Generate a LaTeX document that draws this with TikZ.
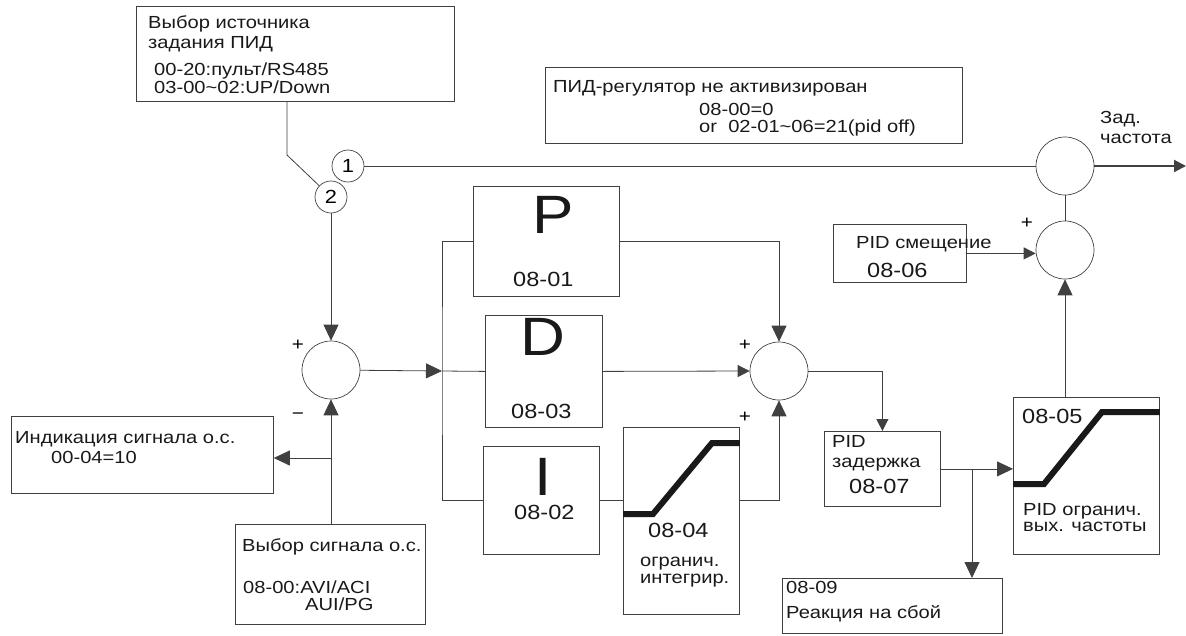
\documentclass[tikz,border=0pt]{standalone}
\usepackage{fontspec}
\setmainfont{Liberation Sans}[FakeStretch=1.15]
\usetikzlibrary{arrows.meta,positioning}

\begin{document}
\begin{tikzpicture}[
  x=1pt, y=-1pt,
  block/.style={draw=black!75, line width=0.8pt, anchor=north west, inner sep=0pt},
  sum/.style={draw=black!75, line width=0.7pt, circle, minimum size=58pt, inner sep=0pt},
  tag/.style={draw=black!75, line width=0.7pt, circle, minimum size=32pt, inner sep=0pt, font=\fontsize{19}{20}\selectfont},
  lbl/.style={anchor=base west, inner sep=0pt, text=black!90, font=\fontsize{17.5}{20}\selectfont},
  num/.style={lbl, font=\fontsize{20.5}{22}\selectfont},
  big/.style={anchor=base, inner sep=0pt, text=black!90, font=\fontsize{54}{60}\selectfont},
  sign/.style={inner sep=0pt, font=\fontsize{18}{20}\selectfont},
  wire/.style={line width=0.8pt, draw=black!75},
  arr/.style={wire, -{Triangle[length=16pt,width=15pt]}},
  sarr/.style={wire, -{Triangle[length=12pt,width=12pt]}},
  ramp/.style={line width=6pt, draw=black!90}
]
\useasboundingbox (0,0) rectangle (1186,635);

% boxes
\node[block, minimum width=318pt, minimum height=95pt] (src) at (136,6) {};
\node[block, minimum width=417pt, minimum height=76pt] (off) at (545,67) {};
\node[block, minimum width=262pt, minimum height=77pt] (fbi) at (11,416) {};
\node[block, minimum width=190pt, minimum height=100pt] (fbs) at (235,524) {};
\node[block, minimum width=146pt, minimum height=110pt] (pb) at (473,186) {};
\node[block, minimum width=117pt, minimum height=112pt] (db) at (485,315) {};
\node[block, minimum width=116pt, minimum height=108pt] (ib) at (483,446) {};
\node[block, minimum width=116pt, minimum height=187pt] (lim1) at (623,427) {};
\node[block, minimum width=133pt, minimum height=58pt] (bias) at (833,224) {};
\node[block, minimum width=116pt, minimum height=75pt] (delay) at (824,431) {};
\node[block, minimum width=146pt, minimum height=157pt] (lim2) at (1013,397) {};
\node[block, minimum width=220pt, minimum height=55pt] (fault) at (782,578) {};

% summing points and switch
\node[sum] (sum1) at (331,370) {};
\node[sum] (sum2) at (779,371) {};
\node[sum] (sum3) at (1065,250) {};
\node[sum] (outc) at (1065,166) {};
\node[tag] (c1) at (348,166) {1};
\node[tag] (c2) at (331,197) {2};

% texts
\node[lbl] (srct1) at (148,28) {Выбор источника};
\node[lbl] (srct2) at (148,48) {задания ПИД};
\node[lbl] (srct3) at (154,75) {00-20:пульт/RS485};
\node[lbl] (srct4) at (154,93) {03-00\textasciitilde02:UP/Down};
\node[lbl] (offt1) at (553,92) {ПИД-регулятор не активизирован};
\node[lbl] (offt2) at (699,115) {08-00=0};
\node[lbl] (offt3) at (699,132) {or\ \ 02-01\textasciitilde06=21(pid off)};
\node[lbl] (fbit1) at (15,443) {Индикация сигнала о.с.};
\node[lbl] (fbit2) at (51,463) {00-04=10};
\node[lbl] (fbst1) at (242,551) {Выбор сигнала о.с.};
\node[lbl] (fbst2) at (243,593) {08-00:AVI/ACI};
\node[lbl] (fbst3) at (305,610) {AUI/PG};
\node[big] (pchar) at (553,233) {P};
\node[num] (pnum) at (513,286) {08-01};
\node[big] (dchar) at (543,355) {D};
\node[num] (dnum) at (511,418) {08-03};
\node[big] (ichar) at (543,495) {I};
\node[num] (inum) at (514,519) {08-02};
\node[num] (lim1n) at (648,537) {08-04};
\node[lbl] (lim1t1) at (640,566) {огранич.};
\node[lbl] (lim1t2) at (640,583) {интегрир.};
\node[lbl] (biast) at (856,248) {PID смещение};
\node[num] (biasn) at (867,277) {08-06};
\node[lbl] (delayt1) at (832,447) {PID};
\node[lbl] (delayt2) at (832,467) {задержка};
\node[num] (delayn) at (849,493) {08-07};
\node[num] (lim2n) at (1022,423) {08-05};
\node[lbl] (lim2t1) at (1023,515) {PID огранич.};
\node[lbl] (lim2t2) at (1023,531) {вых. частоты};
\node[lbl] (faultt1) at (786,593) {08-09};
\node[lbl] (faultt2) at (786,618) {Реакция на сбой};
\node[lbl] (freqt1) at (1100,123) {Зад.};
\node[lbl] (freqt2) at (1100,143) {частота};
\node[sign] (s1p) at (298,345) {+};
\node[sign] (s1m) at (298,416) {−};
\node[sign] (s2p) at (745,345) {+};
\node[sign] (s2i) at (745,417) {+};
\node[sign] (s3p) at (1027,223) {+};

% limiter curves
\draw[ramp] (lim1.west |- 0,514) -- (653,514) -- (712,443) -- (lim1.east |- 0,443);
\draw[ramp] (lim2.west |- 0,484) -- (1044,484) -- (1102,412) -- (lim2.east |- 0,412);

% connectors
\coordinate (bend) at (287,155);
\coordinate (split) at (442,371);
\coordinate (fbtap) at (331,458);
\coordinate (ftap) at (972,468.5);
\coordinate (fout) at (1186,166);
\draw[wire] (src.south -| bend) -- (bend) -- (c2);
\draw[wire] (c1) -- (outc);
\draw[sarr, line width=2pt] (outc) -- (fout);
\draw[arr] (c2) -- (sum1);
\draw[arr] (fbs.north -| sum1) -- (sum1);
\draw[arr] (fbtap) -- (fbtap -| fbi.east);
\draw[arr] (sum1) -- (split);
\draw[wire] (pb.west) -| (split) |- (ib.west);
\draw[wire] (split) -- (db.west);
\draw[arr] (pb.east) -| (sum2.north);
\draw[sarr] (db.east) -- (sum2.west);
\draw[wire] (ib.east) -- (ib.east -| lim1.west);
\draw[arr] (lim1.east |- ib.east) -| (sum2.south);
\draw[sarr] (sum2.east) -| (delay.north);
\draw[arr] (delay.east) -- (delay.east -| lim2.west);
\draw[arr] (ftap) -- (ftap |- fault.north);
\draw[arr] (sum3 |- lim2.north) -- (sum3.south);
\draw[sarr] (bias.east) -- (bias.east -| sum3.west);
\draw[wire] (sum3.north) -- (outc.south);
\end{tikzpicture}
\end{document}
